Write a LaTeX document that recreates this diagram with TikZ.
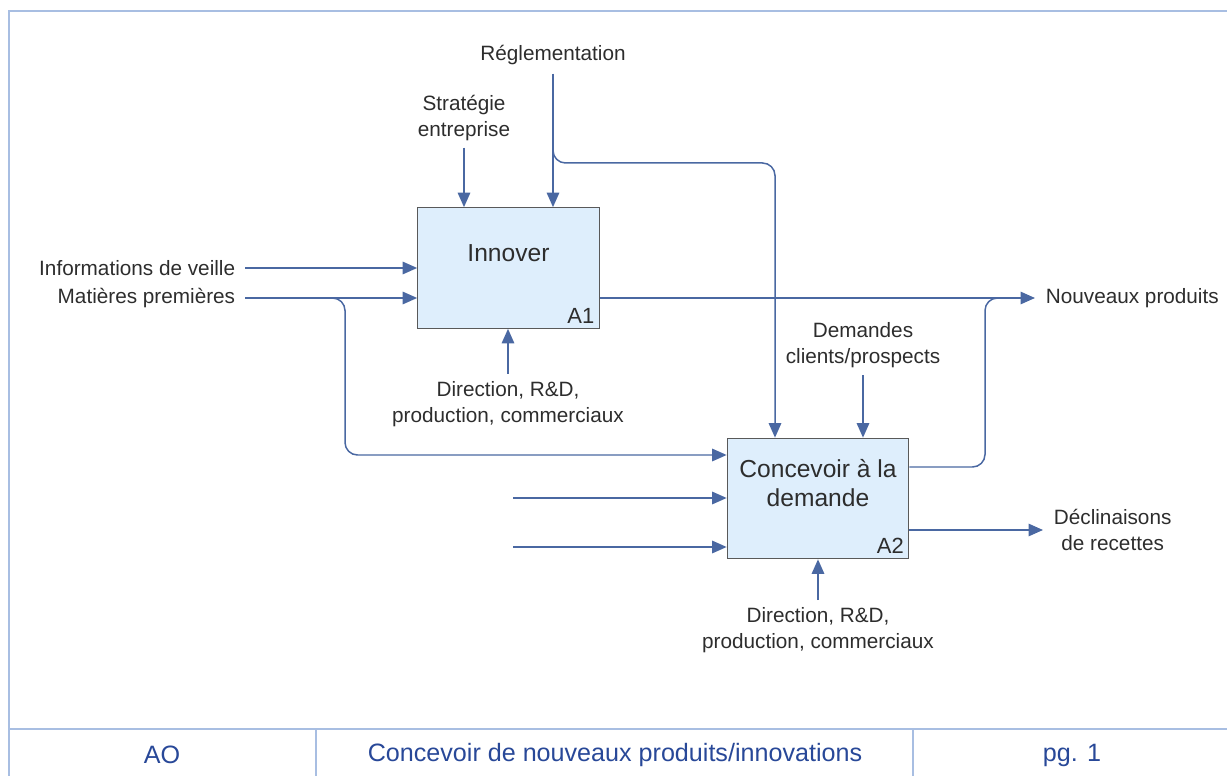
\documentclass[tikz,border=0pt]{standalone}
\usepackage{fontspec}
\setmainfont{Liberation Sans}
\usetikzlibrary{arrows.meta,positioning,calc}
\definecolor{idefline}{RGB}{74,104,162}
\definecolor{ideffill}{RGB}{222,238,252}
\definecolor{idefframe}{RGB}{168,190,226}
\definecolor{ideftext}{RGB}{40,72,152}
\definecolor{labeltext}{RGB}{45,45,45}

\begin{document}
\begin{tikzpicture}[
  x=0.02cm, y=-0.02cm,
  activity/.style={rectangle, draw=gray!70!black, line width=0.7pt, fill=ideffill, minimum width=3.63cm, minimum height=2.41cm, inner sep=0pt},
  title/.style={font=\fontsize{14}{16.5}\selectfont, text=labeltext, align=center},
  tag/.style={font=\fontsize{12.5}{14}\selectfont, text=labeltext, inner sep=3pt},
  txt/.style={font=\fontsize{11.8}{14.7}\selectfont, text=labeltext, align=center, inner sep=2pt},
  arrow/.style={-{Triangle[length=2.9mm, width=2.5mm]}, idefline, line width=0.85pt},
  link/.style={idefline, line width=0.85pt},
  frame/.style={idefframe, line width=0.6pt},
  foot/.style={font=\fontsize{14.3}{16}\selectfont, text=ideftext},
]
\useasboundingbox (0,0) rectangle (1227,776);

% Frame and footer
\draw[frame] (9,776) -- (9,11) -- (1227,11);
\draw[frame] (9,729) -- (1227,729);
\draw[frame] (316,729) -- (316,776);
\draw[frame] (913,729) -- (913,776);
\node[foot] (ao) at (162,755) {AO};
\node[foot] (pagetitle) at (615,755) {Concevoir de nouveaux produits/innovations};
\node[foot] (page) at (1072,755) {pg. 1};

% Activities
\node[activity] (innover) at (508.5,268) {};
\node[title, below=0.62cm of innover.north] (innovertxt) {Innover};
\node[tag, anchor=south east] (a1) at (innover.south east) {A1};

\node[activity] (concevoir) at (818,498.5) {};
\node[title, below=0.31cm of concevoir.north] (concevoirtxt) {Concevoir à la\\demande};
\node[tag, anchor=south east] (a2) at (concevoir.south east) {A2};

% Controls
\node[txt] (regl) at (553,55) {Réglementation};
\draw[arrow] (regl.south) ++(0,5) -- (regl.south |- innover.north);
\coordinate (reglsplit) at (553,140);
\coordinate (reglturn) at (775,163);
\draw[arrow, rounded corners=0.25cm] (reglsplit) |- (reglturn) -- (reglturn |- concevoir.north);

\node[txt] (strat) at (464,118) {Stratégie\\entreprise};
\draw[arrow] (strat.south) ++(0,3) -- (strat.south |- innover.north);

\node[txt] (demandes) at (863,345) {Demandes\\clients/prospects};
\draw[arrow] (demandes.south) ++(0,4) -- (demandes.south |- concevoir.north);

% Inputs
\node[txt, anchor=east] (veille) at (239,268) {Informations de veille};
\draw[arrow] (veille.east) ++(6,0) -- (veille.east -| innover.west);

\node[txt, anchor=east] (matieres) at (239,298) {Matières premières};
\draw[arrow] (matieres.east) ++(6,0) -- (matieres.east -| innover.west);
\coordinate (matsplit) at (285,298);
\coordinate (matturn) at (345,455);
\draw[arrow, rounded corners=0.25cm] (matsplit) -| (matturn) -- (matturn -| concevoir.west);

\coordinate (inputb) at (513,498);
\coordinate (inputc) at (513,547);
\draw[arrow] (inputb) -- (inputb -| concevoir.west);
\draw[arrow] (inputc) -- (inputc -| concevoir.west);

% Outputs
\node[txt, anchor=west, inner xsep=6pt] (nouveaux) at (1035,298) {Nouveaux produits};
\draw[arrow] (innover.east |- nouveaux.west) -- (nouveaux.west);
\coordinate (prodjoin) at (1012,298);
\coordinate (prodturn) at (985,467);
\draw[link, rounded corners=0.25cm] (concevoir.east |- prodturn) -- (prodturn) |- (prodjoin);

\node[txt, anchor=west, inner xsep=6pt] (declin) at (1043,530) {Déclinaisons\\de recettes};
\draw[arrow] (concevoir.east |- declin.west) -- (declin.west);

% Mechanisms
\node[txt, anchor=north] (meca1) at (508,378) {Direction, R\&D,\\production, commerciaux};
\draw[arrow] (meca1.north) ++(0,-4) -- (meca1.north |- innover.south);

\node[txt, anchor=north] (meca2) at (818,604) {Direction, R\&D,\\production, commerciaux};
\draw[arrow] (meca2.north) ++(0,-4) -- (meca2.north |- concevoir.south);

\end{tikzpicture}
\end{document}
